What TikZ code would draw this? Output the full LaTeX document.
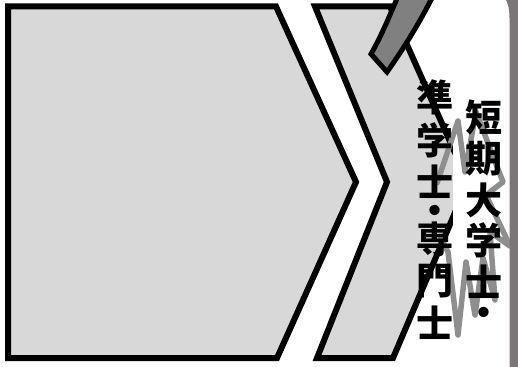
\documentclass[tikz,border=0pt]{standalone}
\usepackage{fontspec}
\newfontfamily\jp{Noto Sans CJK JP}
\definecolor{panel}{HTML}{D8D8D8}
\definecolor{bar}{HTML}{808080}
\definecolor{edge}{HTML}{7B7676}
\definecolor{quake}{HTML}{8E8E8E}
\tikzset{kanji/.style={font=\jp\bfseries\fontsize{37}{37}\selectfont,inner sep=0pt},
	dot/.style={kanji,anchor=base}}
\begin{document}
\begin{tikzpicture}[x=1pt,y=-1pt,line join=miter,line width=6pt]
	\useasboundingbox (0,0) rectangle (518,366);
	\path
	(8,6.5) coordinate (A)
	(276,6.5) coordinate (B)
	(356,182) coordinate (C)
	(277,358) coordinate (D)
	(8,358) coordinate (E)
	(315,6.5) coordinate (F)
	(390,6.5) coordinate (G)
	(468,182) coordinate (H)
	(393,358) coordinate (I)
	(317,358) coordinate (J)
	(387,182) coordinate (K)
	;
	\draw[fill=panel] (A)--(B)--(C)--(D)--(E)--cycle;
	\draw[fill=panel] (F)--(G)--(H)--(I)--(J)--(K)--cycle;
	\fill[white] (453,0) rectangle (510,366);
	\draw[quake,line width=5.5pt,line join=round,line cap=round] (437,183)--(458,121)--(465,172)--(476,112)--(503,182)--(486,195)--(510,246)--(490,232)--(495,300)--(483,258)--(475,315)--(466,262)--(458,335)--(448,252)--(440,236);
	\draw[fill=bar,line width=5pt] (371,54)--(387,72) .. controls (404,48) and (420,22) .. (434,-6)--(399,-6) .. controls (391,12) and (383,33) .. (371,54)--cycle;
	\foreach \c/\y in {短/117,期/159,大/200,学/240,士/282}
		\node[kanji] (r\y) at (484,\y) {\c};
	\node[dot] (rdot) at (484,326) {\smash{・}};
	\foreach \c/\y in {準/97,学/140,士/182,専/239,門/281,士/323}
		\node[kanji] (l\y) at (435,\y) {\c};
	\node[dot] (ldot) at (435,224) {\smash{・}};
	\fill[edge] (509.5,370)--(509.5,18) .. controls (509.5,8) and (507.5,2) .. (505,-2)--(522,-2)--(522,370)--cycle;
\end{tikzpicture}
\end{document}
